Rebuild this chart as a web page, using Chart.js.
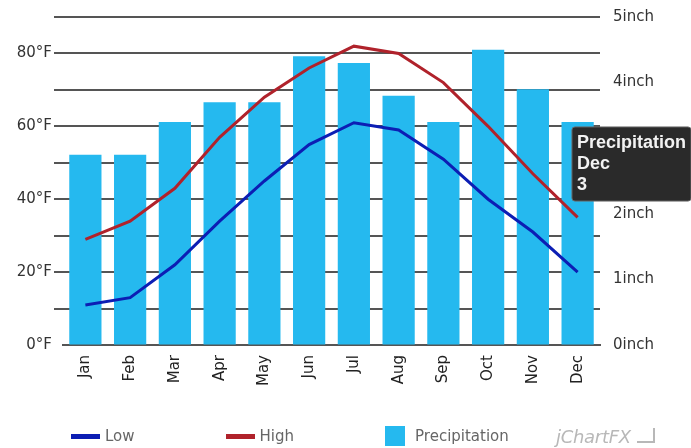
<!DOCTYPE html>
<html>
<head>
<meta charset="utf-8">
<script src="https://cdn.jsdelivr.net/npm/chart.js@4/dist/chart.umd.min.js"></script>
<style>
  html, body { margin: 0; padding: 0; background: #fff; }
  #wrap { position: relative; width: 691px; height: 448px; overflow: hidden; }
  #legend { position: absolute; left: 71px; top: 426px; display: flex; align-items: center; gap: 91px;
            font-family: 'DejaVu Sans', sans-serif; font-size: 15px; color: #666; }
  .item { display: flex; align-items: center; }
  .swatch-line { width: 29px; height: 5px; margin-right: 5px; }
  .swatch-box { width: 20px; height: 20px; margin-right: 10px; }
  #logo { position: absolute; left: 556px; top: 426px; font-family: 'DejaVu Sans', sans-serif;
          font-style: italic; font-size: 18px; color: #b8b8b8; letter-spacing: -0.3px; }
  #logo span { display: inline-block; width: 16px; height: 13px; margin-left: 6px;
               border-right: 2px solid #b8b8b8; border-bottom: 2px solid #b8b8b8; }
</style>
</head>
<body>
<div id="wrap">
  <canvas id="chart"></canvas>
  <div id="legend"></div>
  <div id="logo">jChartFX<span></span></div>
</div>
<script>
const months = ['Jan', 'Feb', 'Mar', 'Apr', 'May', 'Jun', 'Jul', 'Aug', 'Sep', 'Oct', 'Nov', 'Dec'];
const lowTemps = [11, 13, 22, 34, 45, 55, 61, 59, 51, 40, 31, 20];
const highTemps = [29, 34, 43, 57, 68, 76, 82, 80, 72, 60, 47, 35];
const precipitation = [2.9, 2.9, 3.4, 3.7, 3.7, 4.4, 4.3, 3.8, 3.4, 4.5, 3.9, 3.4];
const tempTicks = [0, 20, 40, 60, 80];

const blue = '#0c1eb4';
const red = '#b0222b';
const sky = '#25b9ef';

Chart.defaults.font.family = 'DejaVu Sans';
Chart.defaults.font.size = 15;
Chart.defaults.color = '#333';

// keep the tooltip just under the top of the hovered bar
Chart.Tooltip.positioners.barTop = function (items) {
    if (!items.length) return false;
    const el = items[0].element;
    return { x: el.x, y: el.y + 5 };
};

const ctx = document.getElementById('chart').getContext('2d');
const chart = new Chart(ctx, {
    type: 'bar',
    data: {
        labels: months,
        datasets: [
            {
                type: 'line', label: 'Low', data: lowTemps, yAxisID: 'y',
                borderColor: blue, backgroundColor: blue, borderWidth: 3,
                pointRadius: 0, tension: 0, order: 1
            },
            {
                type: 'line', label: 'High', data: highTemps, yAxisID: 'y',
                borderColor: red, backgroundColor: red, borderWidth: 3,
                pointRadius: 0, tension: 0, order: 1
            },
            {
                type: 'bar', label: 'Precipitation', data: precipitation, yAxisID: 'y1',
                backgroundColor: sky, borderWidth: 0,
                categoryPercentage: 1, barPercentage: 0.72, order: 2
            }
        ]
    },
    options: {
        responsive: true,
        maintainAspectRatio: false,
        animation: false,
        events: [],
        layout: { padding: { top: 17, left: 0, right: 0, bottom: 0 } },
        scales: {
            x: {
                grid: { display: false, drawTicks: false },
                border: { display: true, color: '#555', width: 2 },
                ticks: { minRotation: 90, maxRotation: 90, padding: 10, color: '#222', font: { size: 15 } },
                afterFit: s => { s.height = 103; }
            },
            y: {
                position: 'left', min: 0, max: 90,
                border: { display: false },
                grid: {
                    color: c => (c.tick && c.tick.value === 0) ? 'rgba(0,0,0,0)' : '#555',
                    lineWidth: 2, tickLength: 9
                },
                ticks: {
                    stepSize: 10, padding: 2,
                    callback: v => tempTicks.includes(v) ? v + '°F' : ''
                },
                afterFit: s => { s.width = 63; s.paddingTop = 0; s.paddingBottom = 0; }
            },
            y1: {
                position: 'right', min: 0, max: 5,
                border: { display: false },
                grid: { drawOnChartArea: false, drawTicks: false },
                ticks: { stepSize: 1, padding: 13, callback: v => v + 'inch' },
                afterFit: s => { s.width = 91; s.paddingTop = 0; s.paddingBottom = 0; }
            }
        },
        plugins: {
            legend: { display: false },
            tooltip: {
                position: 'barTop',
                xAlign: 'left', yAlign: 'top',
                caretSize: 0, caretPadding: 0, cornerRadius: 3,
                backgroundColor: '#2a2a2a', borderColor: '#666', borderWidth: 1,
                displayColors: false,
                padding: { top: 6, bottom: 6, left: 5, right: 5 },
                titleColor: '#f2f2f2', bodyColor: '#f2f2f2',
                titleFont: { family: 'Liberation Sans', size: 18, weight: 'bold', lineHeight: 1.15 },
                bodyFont: { family: 'Liberation Sans', size: 18, weight: 'bold', lineHeight: 1.15 },
                titleSpacing: 0, titleMarginBottom: 0, bodySpacing: 0,
                callbacks: {
                    title: items => [items[0].dataset.label, items[0].label],
                    label: item => item.raw.toFixed(0)
                }
            }
        }
    }
});

// show the Dec precipitation tooltip like the original screenshot
chart.tooltip.setActiveElements([{ datasetIndex: 2, index: months.length - 1 }], { x: 0, y: 0 });
chart.update();

// legend built from the datasets
const legend = document.getElementById('legend');
chart.data.datasets.forEach(ds => {
    const item = document.createElement('div');
    item.className = 'item';
    const sw = document.createElement('div');
    sw.className = ds.type === 'line' ? 'swatch-line' : 'swatch-box';
    sw.style.background = ds.type === 'line' ? ds.borderColor : ds.backgroundColor;
    const txt = document.createElement('span');
    txt.textContent = ds.label;
    item.appendChild(sw);
    item.appendChild(txt);
    legend.appendChild(item);
});
</script>
</body>
</html>
